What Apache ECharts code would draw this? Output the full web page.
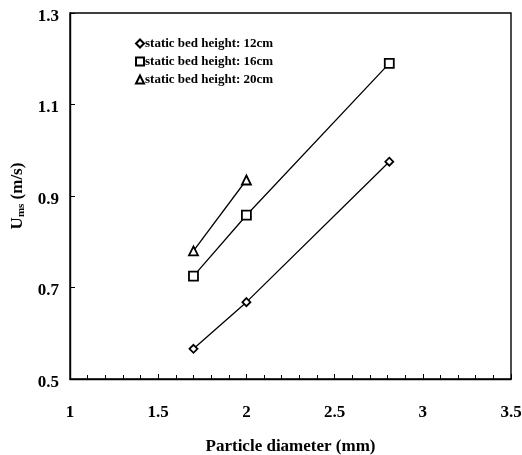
<!DOCTYPE html>
<html><head><meta charset="utf-8">
<script src="https://cdn.jsdelivr.net/npm/echarts@6/dist/echarts.min.js"></script>
<style>html,body{margin:0;padding:0;background:#fff}#c{width:522px;height:455px}</style>
</head><body><div id="c"></div>
<script>
const xTicks = [1, 1.5, 2, 2.5, 3, 3.5];
const yTicks = [0.5, 0.7, 0.9, 1.1, 1.3];
const names = ['static bed height: 12cm', 'static bed height: 16cm', 'static bed height: 20cm'];
const d12 = [[1.7, 0.566], [2.0, 0.668], [2.81, 0.975]];
const d16 = [[1.7, 0.725], [2.0, 0.858], [2.81, 1.19]];
const d20 = [[1.7, 0.78], [2.0, 0.935]];
const symbols = ['diamond', 'rect', 'triangle'];
const sizes = [8, 9, 9];
const font = 'Liberation Serif';
const chart = echarts.init(document.getElementById('c'));
const mk = (name, data, i) => ({
  name, type: 'line', data, symbol: symbols[i], symbolSize: sizes[i], showSymbol: true,
  lineStyle: {color: '#000', width: 1.3},
  itemStyle: {color: '#fff', borderColor: '#000', borderWidth: 1.8},
  emphasis: {disabled: true}, animation: false, z: 3
});
chart.setOption({
  animation: false,
  grid: {left: 70, right: 11, top: 13, bottom: 76, show: true, borderColor: '#000', borderWidth: 1.4,
    containLabel: false, outerBoundsMode: 'none'},
  legend: {
    orient: 'vertical', left: 130, top: 32, itemWidth: 8, itemHeight: 8, itemGap: 5,
    textStyle: {fontFamily: font, fontWeight: 'bold', fontSize: 13, color: '#000', padding: [0,0,0,-4]},
    data: names.map((n, i) => ({name: n, icon: symbols[i]}))
  },
  xAxis: {
    type: 'value', min: 1, max: 3.5, interval: 0.5,
    name: 'Particle diameter (mm)', nameLocation: 'middle', nameGap: 59,
    nameTextStyle: {fontFamily: font, fontWeight: 'bold', fontSize: 17, color: '#000'},
    axisLine: {show: true, lineStyle: {color: '#000', width: 1.4}},
    axisTick: {show: true, inside: true, length: 5, lineStyle: {color: '#000'}},
    minorTick: {show: true, splitNumber: 5, length: 4, lineStyle: {color: '#000'}},
    splitLine: {show: false},
    axisLabel: {fontFamily: font, fontWeight: 'bold', fontSize: 17, color: '#000', margin: 25,
      formatter: v => xTicks.includes(+v.toFixed(2)) ? String(+v.toFixed(2)) : ''}
  },
  yAxis: {
    type: 'value', min: 0.5, max: 1.3, interval: 0.2,
    name: '{a|U}{b|ms}{a| (m/s)}', nameLocation: 'middle', nameGap: 43,
    nameTextStyle: {rich: {
      a: {fontFamily: font, fontWeight: 'bold', fontSize: 17, color: '#000'},
      b: {fontFamily: font, fontWeight: 'bold', fontSize: 11, color: '#000', verticalAlign: 'bottom', padding: [7,0,0,0]}
    }},
    axisLine: {show: true, lineStyle: {color: '#000', width: 1.4}},
    axisTick: {show: true, inside: true, length: 5, lineStyle: {color: '#000'}},
    minorTick: {show: false},
    splitLine: {show: false},
    axisLabel: {margin: 11,
      rich: {t: {fontFamily: font, fontWeight: 'bold', fontSize: 17, color: '#000', padding: [7,0,0,0]}},
      formatter: v => yTicks.includes(+v.toFixed(2)) ? '{t|' + v.toFixed(1) + '}' : ''}
  },
  series: [mk(names[0], d12, 0), mk(names[1], d16, 1), mk(names[2], d20, 2)]
});
</script></body></html>
